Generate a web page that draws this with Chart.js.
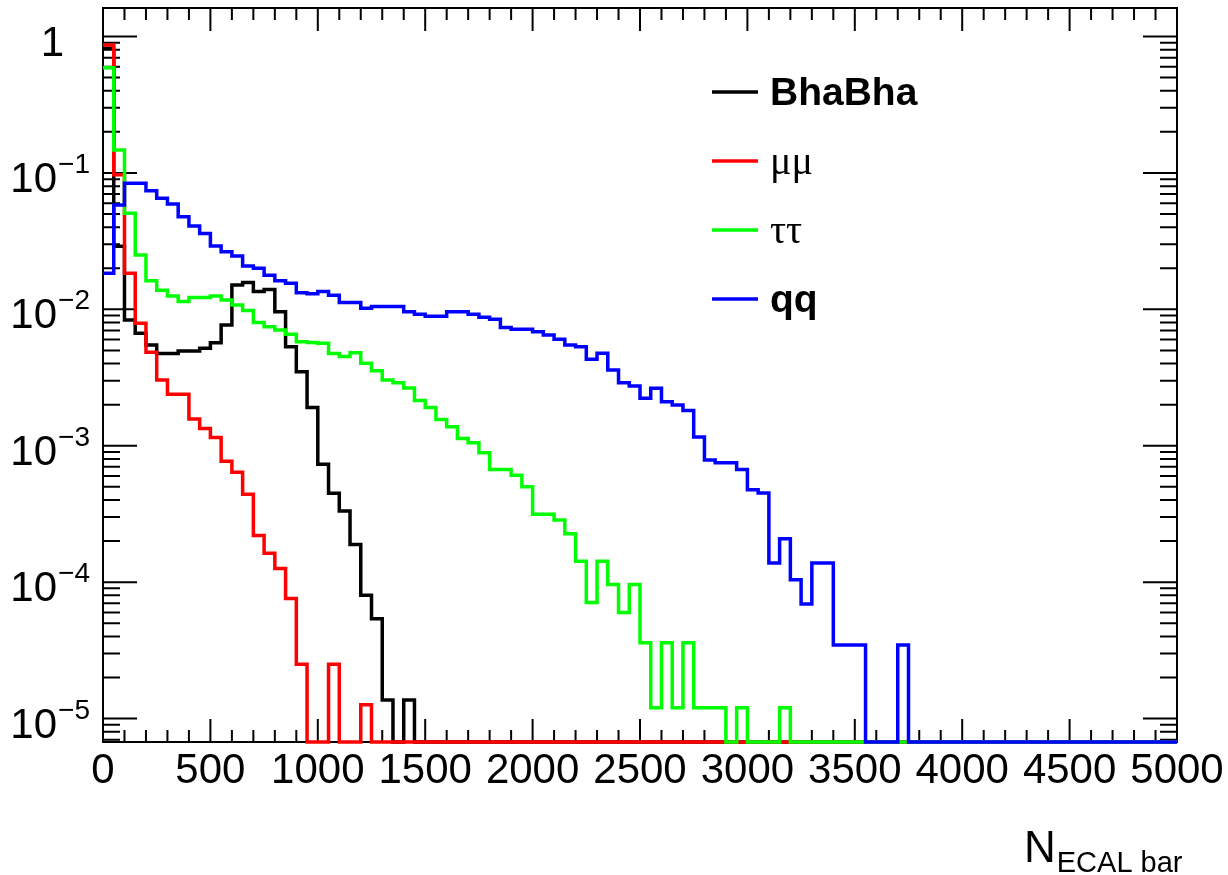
<!DOCTYPE html>
<html>
<head>
<meta charset="utf-8">
<script src="https://cdn.jsdelivr.net/npm/chart.js@4/dist/chart.umd.min.js"></script>
<style>
  html, body { margin: 0; padding: 0; background: #ffffff; }
  #wrap { width: 1228px; height: 875px; }
</style>
</head>
<body>
<div id="wrap"><canvas id="c" width="1228" height="875"></canvas></div>
<script>
// ---------------- data (normalised entries per 50-wide bin, 0..5000) ----------------
const X_MIN = 0;
const X_MAX = 5000;
const BIN_WIDTH = 50;

const seriesNames = ['BhaBha', 'μμ', 'ττ', 'qq'];

const bhabha = [
  0.82, 0.029, 0.00835, 0.00667, 0.00547, 0.00475, 0.00475, 0.00494, 0.00494, 0.00518,
  0.00569, 0.00767, 0.0151, 0.0157, 0.0135, 0.0140, 0.0096, 0.00532, 0.00349, 0.00191,
  7.3e-4, 4.48e-4, 3.32e-4, 1.89e-4, 8.0e-5, 5.4e-5, 1.37e-5, 0, 1.37e-5, 0,
  0, 0, 0, 0, 0, 0, 0, 0, 0, 0,
  0, 0, 0, 0, 0, 0, 0, 0, 0, 0,
  0, 0, 0, 0, 0, 0, 0, 0, 0, 0,
  0, 0, 0, 0, 0, 0, 0, 0, 0, 0,
  0, 0, 0, 0, 0, 0, 0, 0, 0, 0,
  0, 0, 0, 0, 0, 0, 0, 0, 0, 0,
  0, 0, 0, 0, 0, 0, 0, 0, 0, 0
];

const mumu = [
  0.867, 0.097, 0.0184, 0.0079, 0.00484, 0.00303, 0.00238, 0.00238, 0.00157, 0.00134,
  0.00115, 7.7e-4, 6.4e-4, 4.4e-4, 2.2e-4, 1.63e-4, 1.26e-4, 7.6e-5, 2.5e-5, 0,
  0, 2.5e-5, 0, 0, 1.26e-5, 0, 0, 0, 0, 0,
  0, 0, 0, 0, 0, 0, 0, 0, 0, 0,
  0, 0, 0, 0, 0, 0, 0, 0, 0, 0,
  0, 0, 0, 0, 0, 0, 0, 0, 0, 0,
  0, 0, 0, 0, 0, 0, 0, 0, 0, 0,
  0, 0, 0, 0, 0, 0, 0, 0, 0, 0,
  0, 0, 0, 0, 0, 0, 0, 0, 0, 0,
  0, 0, 0, 0, 0, 0, 0, 0, 0, 0
];

const tautau = [
  0.59, 0.147, 0.0506, 0.025, 0.0162, 0.0138, 0.0125, 0.0114, 0.0122, 0.0122,
  0.0125, 0.0117, 0.01075, 0.0098, 0.008, 0.00745, 0.00705, 0.00656, 0.00578, 0.0057,
  0.00563, 0.00475, 0.0045, 0.0048, 0.00402, 0.00355, 0.00303, 0.0029, 0.00265, 0.00215,
  0.00191, 0.00156, 0.00138, 0.00113, 0.00105, 8.9e-4, 6.7e-4, 6.7e-4, 6.07e-4, 5.0e-4,
  3.15e-4, 3.15e-4, 2.85e-4, 2.26e-4, 1.42e-4, 7.1e-5, 1.42e-4, 9.6e-5, 6.0e-5, 9.6e-5,
  3.6e-5, 1.2e-5, 3.6e-5, 1.2e-5, 3.6e-5, 1.2e-5, 1.2e-5, 1.2e-5, 0, 1.2e-5,
  0, 0, 0, 1.2e-5, 0, 0, 0, 0, 0, 0,
  0, 0, 0, 0, 0, 0, 0, 0, 0, 0,
  0, 0, 0, 0, 0, 0, 0, 0, 0, 0,
  0, 0, 0, 0, 0, 0, 0, 0, 0, 0
];

const qq = [
  0.0184, 0.0582, 0.0839, 0.0839, 0.0741, 0.0651, 0.0592, 0.0478, 0.0408, 0.036,
  0.0291, 0.0264, 0.0246, 0.0208, 0.020, 0.0178, 0.0162, 0.0155, 0.0132, 0.013,
  0.0135, 0.0127, 0.0112, 0.0112, 0.0102, 0.0105, 0.0105, 0.0105, 0.0096, 0.0092,
  0.0089, 0.0089, 0.0096, 0.0096, 0.0092, 0.00874, 0.00844, 0.00737, 0.00713, 0.00713,
  0.00685, 0.00648, 0.00603, 0.00547, 0.00532, 0.0043, 0.00476, 0.00359, 0.0029, 0.00274,
  0.00223, 0.00264, 0.0021, 0.00199, 0.00181, 0.00116, 7.85e-4, 7.5e-4, 7.5e-4, 6.7e-4,
  4.76e-4, 4.5e-4, 1.38e-4, 2.08e-4, 1.04e-4, 6.9e-5, 1.38e-4, 1.38e-4, 3.46e-5, 3.46e-5,
  3.46e-5, 0, 0, 0, 3.46e-5, 0, 0, 0, 0, 0,
  0, 0, 0, 0, 0, 0, 0, 0, 0, 0,
  0, 0, 0, 0, 0, 0, 0, 0, 0, 0
];

// axis ranges / tick labels
const Y_MIN = 6.73e-6;
const Y_MAX = 1.618;
const xTickLabels = ['0', '500', '1000', '1500', '2000', '2500', '3000', '3500', '4000', '4500', '5000'];
const xTickValues = [0, 500, 1000, 1500, 2000, 2500, 3000, 3500, 4000, 4500, 5000];
const yTickExponents = [0, -1, -2, -3, -4, -5];
const xAxisTitle = 'N';
const xAxisTitleSub = 'ECAL bar';

// ---------------- styling ----------------
const colors = ['#000000', '#ff0000', '#00ff00', '#0000ff'];
const SANS = '"Liberation Sans", Arial, Helvetica, sans-serif';
const SERIF = '"Liberation Serif", "Times New Roman", serif';
const LINE_W = 3.5;

// histogram -> step points (left edges + final right edge); empty bins drawn on the frame floor
function histPoints(values) {
  const pts = values.map((v, i) => ({ x: X_MIN + i * BIN_WIDTH, y: v > 0 ? v : Y_MIN }));
  const last = values[values.length - 1];
  pts.push({ x: X_MIN + values.length * BIN_WIDTH, y: last > 0 ? last : Y_MIN });
  return pts;
}

const allSeries = [bhabha, mumu, tautau, qq];
const datasets = allSeries.map((vals, i) => ({
  label: seriesNames[i],
  data: histPoints(vals),
  borderColor: colors[i],
  backgroundColor: colors[i],
  borderWidth: LINE_W,
  stepped: 'before',
  pointRadius: 0,
  fill: false,
  tension: 0,
  clip: 3,
  order: 4 - i,
  borderJoinStyle: 'miter',
  borderCapStyle: 'butt'
}));

// ---------------- ROOT-like frame, ticks, labels, legend ----------------
const rootStyle = {
  id: 'rootStyle',
  beforeDatasetsDraw(chart) {
    const { ctx, chartArea: a, scales: { x, y } } = chart;
    ctx.save();
    ctx.strokeStyle = '#000';
    ctx.lineWidth = 2;
    ctx.strokeRect(a.left, a.top, a.right - a.left, a.bottom - a.top);
    ctx.beginPath();
    // x ticks (major 500, minor 100), bottom and top
    for (let v = X_MIN; v <= X_MAX; v += 100) {
      const px = x.getPixelForValue(v);
      const len = (v % 500 === 0) ? 23 : 12;
      ctx.moveTo(px, a.bottom); ctx.lineTo(px, a.bottom - len);
      ctx.moveTo(px, a.top); ctx.lineTo(px, a.top + len);
    }
    // y ticks (log), left and right
    for (let e = -6; e <= 0; e++) {
      for (let m = 1; m <= 9; m++) {
        const v = m * Math.pow(10, e);
        if (v < Y_MIN || v > Y_MAX) continue;
        const py = y.getPixelForValue(v);
        const len = m === 1 ? 34 : 17;
        ctx.moveTo(a.left, py); ctx.lineTo(a.left + len, py);
        ctx.moveTo(a.right, py); ctx.lineTo(a.right - len, py);
      }
    }
    ctx.stroke();
    ctx.restore();
  },
  afterDraw(chart) {
    const { ctx, chartArea: a, scales: { x, y } } = chart;
    ctx.save();
    ctx.fillStyle = '#000';
    // x labels
    ctx.font = '42px ' + SANS;
    ctx.textAlign = 'center';
    ctx.textBaseline = 'alphabetic';
    xTickValues.forEach((v, i) => {
      ctx.fillText(xTickLabels[i], x.getPixelForValue(v), 783);
    });
    // y labels 10^n
    const rightEdge = 90;
    yTickExponents.forEach(e => {
      const py = y.getPixelForValue(Math.pow(10, e));
      if (e === 0) {
        ctx.font = '42px ' + SANS;
        ctx.textAlign = 'right';
        ctx.fillText('1', 64, py + 19);
        return;
      }
      const expText = '\u2212' + String(-e);
      ctx.font = '28px ' + SANS;
      ctx.textAlign = 'right';
      ctx.fillText(expText, rightEdge, py);
      const ew = ctx.measureText(expText).width;
      ctx.font = '42px ' + SANS;
      ctx.fillText('10', rightEdge - ew - 1, py + 19);
    });
    // x axis title
    ctx.textAlign = 'left';
    ctx.font = '44px ' + SANS;
    ctx.fillText(xAxisTitle, 1024, 862);
    const nw = ctx.measureText(xAxisTitle).width;
    ctx.font = '29px ' + SANS;
    ctx.fillText(xAxisTitleSub, 1024 + nw + 1, 872);
    // legend
    const legY = [92, 161, 230, 299];
    const legFonts = ['bold 39px ' + SANS, '40px ' + SERIF, '40px ' + SERIF, 'bold 39px ' + SANS];
    seriesNames.forEach((name, i) => {
      ctx.strokeStyle = colors[i];
      ctx.lineWidth = LINE_W;
      ctx.beginPath();
      ctx.moveTo(712, legY[i]);
      ctx.lineTo(758, legY[i]);
      ctx.stroke();
      ctx.font = legFonts[i];
      ctx.textBaseline = 'middle';
      ctx.fillStyle = '#000';
      ctx.fillText(name, 770, legY[i] + 2);
    });
    ctx.restore();
  }
};

new Chart(document.getElementById('c'), {
  type: 'line',
  data: { datasets },
  options: {
    responsive: false,
    maintainAspectRatio: false,
    animation: false,
    events: [],
    layout: { padding: { left: 103, right: 51, top: 8, bottom: 133 } },
    scales: {
      x: { type: 'linear', min: X_MIN, max: X_MAX, display: false },
      y: { type: 'logarithmic', min: Y_MIN, max: Y_MAX, display: false }
    },
    plugins: {
      legend: { display: false },
      tooltip: { enabled: false },
      title: { display: false }
    }
  },
  plugins: [rootStyle]
});
</script>
</body>
</html>
